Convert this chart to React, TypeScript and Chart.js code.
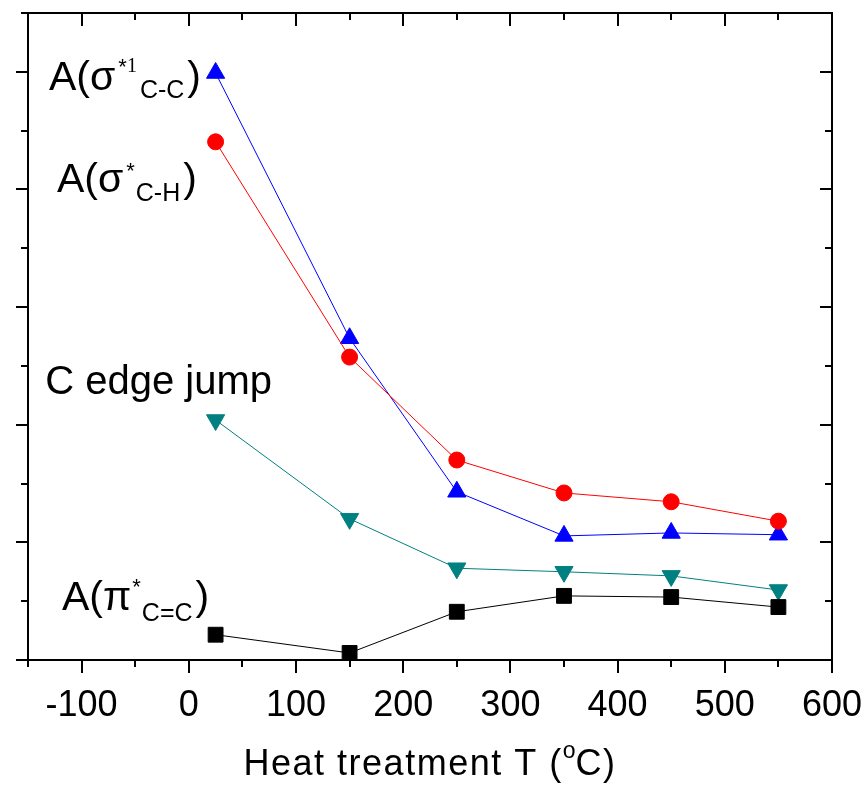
import { useEffect, useRef } from 'react';
import { Chart, registerables } from 'chart.js';

Chart.register(...registerables);

const SANS = '"Liberation Sans", Arial, Helvetica, sans-serif';
const SERIF = '"Liberation Serif", "Times New Roman", serif';

// Heat treatment temperatures (°C)
const temperatures = [25, 150, 250, 350, 450, 550];
// Series values (arbitrary units)
const sigmaCC = [9.98, 5.47, 2.86, 2.11, 2.16, 2.13];
const sigmaCH = [8.81, 5.15, 3.4, 2.84, 2.69, 2.36];
const edgeJump = [4.08, 2.4, 1.56, 1.5, 1.43, 1.19];
const piCC = [0.43, 0.12, 0.82, 1.09, 1.07, 0.9];

// Axis ticks
const xTickLabels = [-100, 0, 100, 200, 300, 400, 500, 600];
const xMinorTicks = [-150, -50, 50, 150, 250, 350, 450, 550];
const yMajorTicks = [0, 2, 4, 6, 8, 10];
const yMinorTicks = [1, 3, 5, 7, 9, 11];

type Part = { text: string; size: number; dy?: number; family?: string; ls?: number; gap?: number };

// Series labels placed in data coordinates
const seriesLabels: { x: number; y: number; parts: Part[] }[] = [
  {
    x: -130.4,
    y: 9.69,
    parts: [
      { text: 'A(σ', size: 41, gap: 3 },
      { text: '*', size: 22, dy: -16 },
      { text: '1', size: 20, dy: -18, family: SERIF, gap: 3 },
      { text: 'C-C', size: 25, dy: 8, gap: 3 },
      { text: ')', size: 41 },
    ],
  },
  {
    x: -123,
    y: 7.96,
    parts: [
      { text: 'A(σ', size: 41, gap: 3 },
      { text: '*', size: 22, dy: -14, gap: 1 },
      { text: 'C-H', size: 25, dy: 9, gap: 3 },
      { text: ')', size: 41 },
    ],
  },
  {
    x: -134,
    y: 4.52,
    parts: [{ text: 'C edge jump', size: 40 }],
  },
  {
    x: -118.3,
    y: 0.85,
    parts: [
      { text: 'A(π', size: 41, gap: 1 },
      { text: '*', size: 22, dy: -16, gap: 1 },
      { text: 'C=C', size: 25, dy: 11, gap: 3 },
      { text: ')', size: 41 },
    ],
  },
];

const axisTitleParts: Part[] = [
  { text: 'Heat treatment T (', size: 36, ls: 1.5 },
  { text: 'o', size: 23, dy: -17 },
  { text: 'C)', size: 36, ls: 1.5 },
];

function setFont(ctx: CanvasRenderingContext2D, p: Part) {
  ctx.font = `${p.size}px ${p.family || SANS}`;
  (ctx as any).letterSpacing = `${p.ls || 0}px`;
}

function measureRich(ctx: CanvasRenderingContext2D, parts: Part[]) {
  let w = 0;
  for (const p of parts) {
    setFont(ctx, p);
    w += ctx.measureText(p.text).width + (p.gap || 0);
  }
  return w;
}

function drawRich(ctx: CanvasRenderingContext2D, x: number, y: number, parts: Part[]) {
  let cx = x;
  for (const p of parts) {
    setFont(ctx, p);
    ctx.fillText(p.text, cx, y + (p.dy || 0));
    cx += ctx.measureText(p.text).width + (p.gap || 0);
  }
  (ctx as any).letterSpacing = '0px';
}

const framePlugin = {
  id: 'frameAndTicks',
  afterDraw(chart: any) {
    const ctx: CanvasRenderingContext2D = chart.ctx;
    const area = chart.chartArea;
    const xs = chart.scales.x;
    const ys = chart.scales.y;
    ctx.save();
    ctx.strokeStyle = '#000';
    ctx.fillStyle = '#000';
    ctx.lineWidth = 2;
    ctx.strokeRect(area.left, area.top, area.right - area.left, area.bottom - area.top);

    const major = 13;
    const minor = 7;
    ctx.beginPath();
    const xTick = (v: number, len: number) => {
      const px = Math.round(xs.getPixelForValue(v));
      ctx.moveTo(px, area.bottom);
      ctx.lineTo(px, area.bottom + len);
      ctx.moveTo(px, area.top);
      ctx.lineTo(px, area.top + len);
    };
    const yTick = (v: number, len: number) => {
      const py = Math.round(ys.getPixelForValue(v));
      ctx.moveTo(area.left, py);
      ctx.lineTo(area.left - len, py);
      ctx.moveTo(area.right, py);
      ctx.lineTo(area.right - len, py);
    };
    xTickLabels.forEach((v) => xTick(v, major));
    xMinorTicks.forEach((v) => xTick(v, minor));
    yMajorTicks.forEach((v) => yTick(v, 12));
    yMinorTicks.forEach((v) => yTick(v, minor));
    ctx.stroke();

    ctx.textBaseline = 'alphabetic';
    ctx.textAlign = 'left';
    for (const lab of seriesLabels) {
      drawRich(ctx, xs.getPixelForValue(lab.x), ys.getPixelForValue(lab.y), lab.parts);
    }

    const tw = measureRich(ctx, axisTitleParts);
    const cx = (area.left + area.right) / 2;
    drawRich(ctx, cx - tw / 2, area.bottom + 115, axisTitleParts);
    ctx.restore();
  },
};

function mkData(values: number[]) {
  return values.map((v, i) => ({ x: temperatures[i], y: v }));
}

export default function App() {
  const canvasRef = useRef<HTMLCanvasElement | null>(null);

  useEffect(() => {
    if (!canvasRef.current) return;
    const chart = new Chart(canvasRef.current, {
      type: 'line',
      data: {
        datasets: [
          {
            label: 'A(π*C=C)',
            data: mkData(piCC),
            borderColor: '#000000',
            backgroundColor: '#000000',
            borderWidth: 1,
            pointStyle: 'rect',
            pointRadius: 10.5,
            pointBorderWidth: 1,
          },
          {
            label: 'C edge jump',
            data: mkData(edgeJump),
            borderColor: '#008080',
            backgroundColor: '#008080',
            borderWidth: 1,
            pointStyle: 'triangle',
            pointRotation: 180,
            pointRadius: 10.5,
            pointBorderWidth: 1,
          },
          {
            label: 'A(σ*C-H)',
            data: mkData(sigmaCH),
            borderColor: '#ff0000',
            backgroundColor: '#ff0000',
            borderWidth: 1,
            pointStyle: 'circle',
            pointRadius: 8,
            pointBorderWidth: 1,
          },
          {
            label: 'A(σ*1C-C)',
            data: mkData(sigmaCC),
            borderColor: '#0000ff',
            backgroundColor: '#0000ff',
            borderWidth: 1,
            pointStyle: 'triangle',
            pointRadius: 10.5,
            pointBorderWidth: 1,
          },
        ],
      },
      options: {
        responsive: false,
        animation: false,
        devicePixelRatio: 1,
        layout: { padding: { left: 0, top: 13, right: 33, bottom: 0 } },
        plugins: {
          legend: { display: false },
          tooltip: { enabled: false },
        },
        elements: { line: { tension: 0 } },
        scales: {
          x: {
            type: 'linear',
            min: -150,
            max: 600,
            afterBuildTicks: (scale: any) => {
              scale.ticks = xTickLabels.map((v) => ({ value: v }));
            },
            afterFit: (scale: any) => {
              scale.height = 126;
              scale.paddingLeft = 0;
              scale.paddingRight = 0;
            },
            grid: { display: false, drawTicks: false, tickLength: 0 },
            border: { display: false },
            ticks: {
              autoSkip: false,
              maxRotation: 0,
              minRotation: 0,
              padding: 24,
              color: '#000',
              font: { family: SANS, size: 36 },
              callback: (v: any) => String(v),
            },
          },
          y: {
            type: 'linear',
            min: 0,
            max: 11,
            afterFit: (scale: any) => {
              scale.width = 28;
              scale.paddingTop = 0;
              scale.paddingBottom = 0;
            },
            grid: { display: false, drawTicks: false },
            border: { display: false },
            ticks: { display: false },
          },
        },
      },
      plugins: [framePlugin],
    });
    return () => chart.destroy();
  }, []);

  return (
    <div style={{ position: 'fixed', left: 0, top: 0, width: 865, height: 786, background: '#fff' }}>
      <canvas ref={canvasRef} width={865} height={786} />
    </div>
  );
}
